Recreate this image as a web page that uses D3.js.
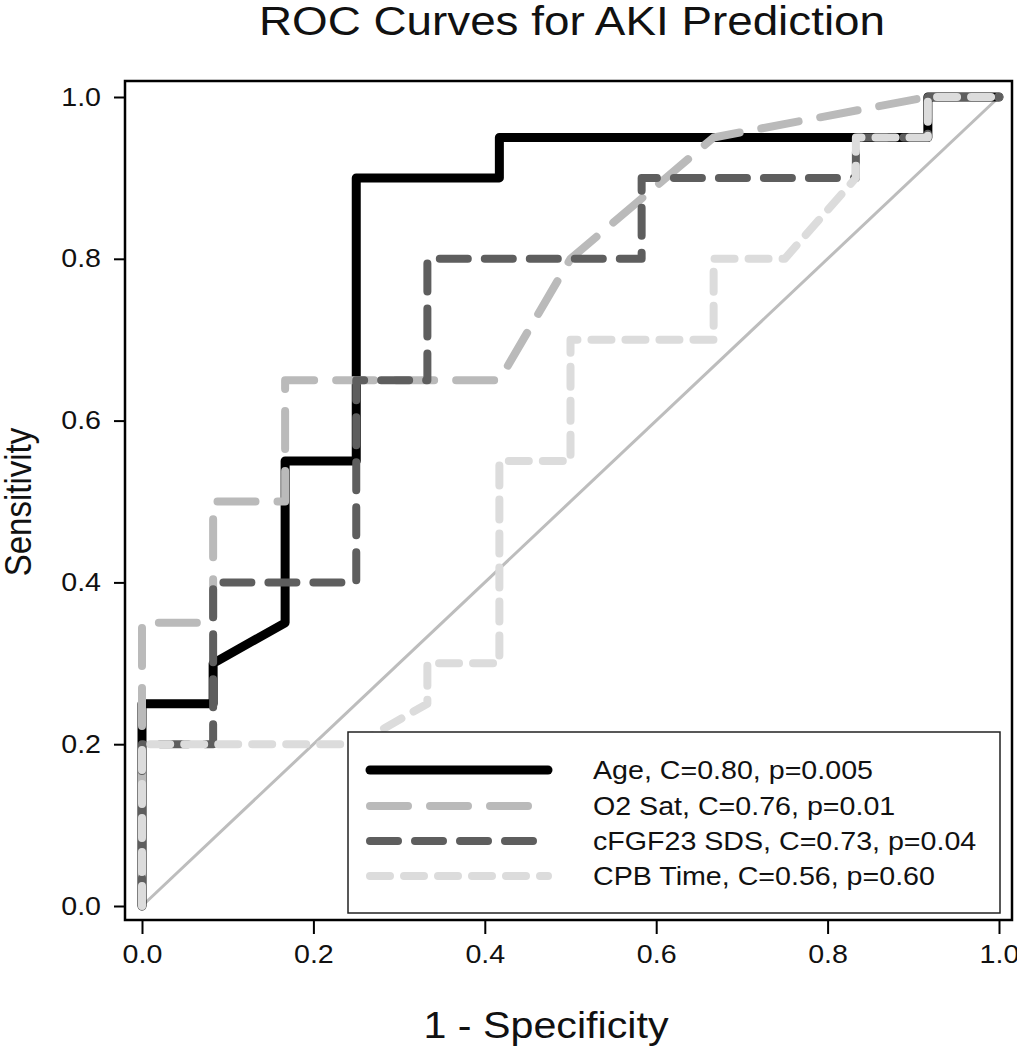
<!DOCTYPE html>
<html><head><meta charset="utf-8">
<script src="https://cdn.jsdelivr.net/npm/d3@7"></script>
<style>body{margin:0;background:#fff}svg{display:block}</style>
</head><body>
<svg id="chart" width="1017" height="1050"></svg>
<script>
// ---- data ----
const xTickValues = [0, 0.2, 0.4, 0.6, 0.8, 1.0];
const yTickValues = [0, 0.2, 0.4, 0.6, 0.8, 1.0];
const seriesLabels = ["Age, C=0.80, p=0.005", "O2 Sat, C=0.76, p=0.01", "cFGF23 SDS, C=0.73, p=0.04", "CPB Time, C=0.56, p=0.60"];
const ageFpr = [0, 0, 0.083, 0.083, 0.167, 0.167, 0.25, 0.25, 0.417, 0.417, 0.917, 0.917, 1];
const ageTpr = [0, 0.25, 0.25, 0.30, 0.35, 0.55, 0.55, 0.90, 0.90, 0.95, 0.95, 1, 1];
const o2Fpr = [0, 0, 0.083, 0.083, 0.167, 0.167, 0.417, 0.5, 0.667, 0.917, 1];
const o2Tpr = [0, 0.35, 0.35, 0.50, 0.50, 0.65, 0.65, 0.80, 0.95, 1, 1];
const fgfFpr = [0, 0, 0.083, 0.083, 0.25, 0.25, 0.333, 0.333, 0.583, 0.583, 0.833, 0.833, 0.917, 0.917, 1];
const fgfTpr = [0, 0.20, 0.20, 0.40, 0.40, 0.65, 0.65, 0.80, 0.80, 0.90, 0.90, 0.95, 0.95, 1, 1];
const cpbFpr = [0, 0, 0.25, 0.333, 0.333, 0.417, 0.417, 0.5, 0.5, 0.667, 0.667, 0.75, 0.833, 0.833, 0.917, 0.917, 1];
const cpbTpr = [0, 0.20, 0.20, 0.25, 0.30, 0.30, 0.55, 0.55, 0.70, 0.70, 0.80, 0.80, 0.90, 0.95, 0.95, 1, 1];
const refFpr = [0, 1];
const refTpr = [0, 1];

// ---- layout / style ----
const S = 1.145; // horizontal text stretch of the original
const FONT = "'Liberation Sans', Arial, sans-serif";
const frame = {left: 125, right: 1012, top: 81, bottom: 920};
const x = d3.scaleLinear().domain([0, 1]).range([142, 999]);
const y = d3.scaleLinear().domain([0, 1]).range([906, 97]);

const styles = [
  {color: "#000000", width: 9, dash: null},
  {color: "#bababa", width: 8, dash: "38,22"},
  {color: "#5e5e5e", width: 8, dash: "28,17"},
  {color: "#dcdcdc", width: 8, dash: "20,14"}
];
const series = [
  {fpr: ageFpr, tpr: ageTpr},
  {fpr: o2Fpr, tpr: o2Tpr},
  {fpr: fgfFpr, tpr: fgfTpr},
  {fpr: cpbFpr, tpr: cpbTpr}
];

const svg = d3.select("#chart");
svg.append("rect").attr("width", 1017).attr("height", 1050).attr("fill", "#fff");

function stretch(sel) {
  sel.each(function () {
    const t = d3.select(this);
    const tx = +t.attr("x") || 0, ty = +t.attr("y") || 0;
    t.attr("x", 0).attr("y", 0).attr("transform", `translate(${tx},${ty}) scale(${S},1)`);
  });
}

// reference diagonal
const line = d3.line().x(d => x(d[0])).y(d => y(d[1]));
svg.append("path")
  .attr("d", line(refFpr.map((v, i) => [v, refTpr[i]])))
  .attr("fill", "none").attr("stroke", "#bdbdbd").attr("stroke-width", 3);

// curves
series.forEach((s, i) => {
  const st = styles[i];
  svg.append("path")
    .attr("d", line(s.fpr.map((v, j) => [v, s.tpr[j]])))
    .attr("fill", "none")
    .attr("stroke", st.color)
    .attr("stroke-width", st.width)
    .attr("stroke-linejoin", "round")
    .attr("stroke-linecap", "round")
    .attr("stroke-dasharray", st.dash);
});

// frame
svg.append("rect")
  .attr("x", frame.left).attr("y", frame.top)
  .attr("width", frame.right - frame.left).attr("height", frame.bottom - frame.top)
  .attr("fill", "none").attr("stroke", "#000").attr("stroke-width", 2.5);

// axes
const xAxis = svg.append("g").attr("transform", `translate(0,${frame.bottom})`)
  .call(d3.axisBottom(x).tickValues(xTickValues).tickFormat(d3.format(".1f")).tickSize(14).tickPadding(11));
const yAxis = svg.append("g").attr("transform", `translate(${frame.left},0)`)
  .call(d3.axisLeft(y).tickValues(yTickValues).tickFormat(d3.format(".1f")).tickSize(11).tickPadding(13));
[xAxis, yAxis].forEach(g => {
  g.select(".domain").remove();
  g.selectAll(".tick line").attr("stroke", "#000").attr("stroke-width", 2);
  g.selectAll(".tick text").attr("font-family", FONT).attr("font-size", 25).attr("fill", "#111");
  stretch(g.selectAll(".tick text"));
});

// title
svg.append("text").attr("x", 572).attr("y", 35).attr("text-anchor", "middle")
  .attr("font-family", FONT).attr("font-size", 40).attr("fill", "#111")
  .text("ROC Curves for AKI Prediction").call(stretch);

// axis titles
svg.append("text").attr("x", 546).attr("y", 1038).attr("text-anchor", "middle")
  .attr("font-family", FONT).attr("font-size", 36).attr("fill", "#111")
  .text("1 - Specificity").call(stretch);
svg.append("text").attr("text-anchor", "middle")
  .attr("transform", `translate(31,502) scale(${S},1) rotate(-90)`)
  .attr("font-family", FONT).attr("font-size", 33).attr("fill", "#111")
  .text("Sensitivity");

// legend
const lg = svg.append("g");
lg.append("rect").attr("x", 348).attr("y", 732).attr("width", 652).attr("height", 181)
  .attr("fill", "#fff").attr("stroke", "#222").attr("stroke-width", 1.5);
const legendY = [770, 806, 841, 876];
seriesLabels.forEach((lab, i) => {
  const st = styles[i];
  lg.append("line").attr("x1", 370).attr("x2", 548).attr("y1", legendY[i]).attr("y2", legendY[i])
    .attr("stroke", st.color).attr("stroke-width", st.width).attr("stroke-linecap", "round")
    .attr("stroke-dasharray", st.dash);
  lg.append("text").attr("x", 593).attr("y", legendY[i] + 9)
    .attr("font-family", FONT).attr("font-size", 25).attr("fill", "#111")
    .text(lab).call(stretch);
});
</script>
</body></html>
